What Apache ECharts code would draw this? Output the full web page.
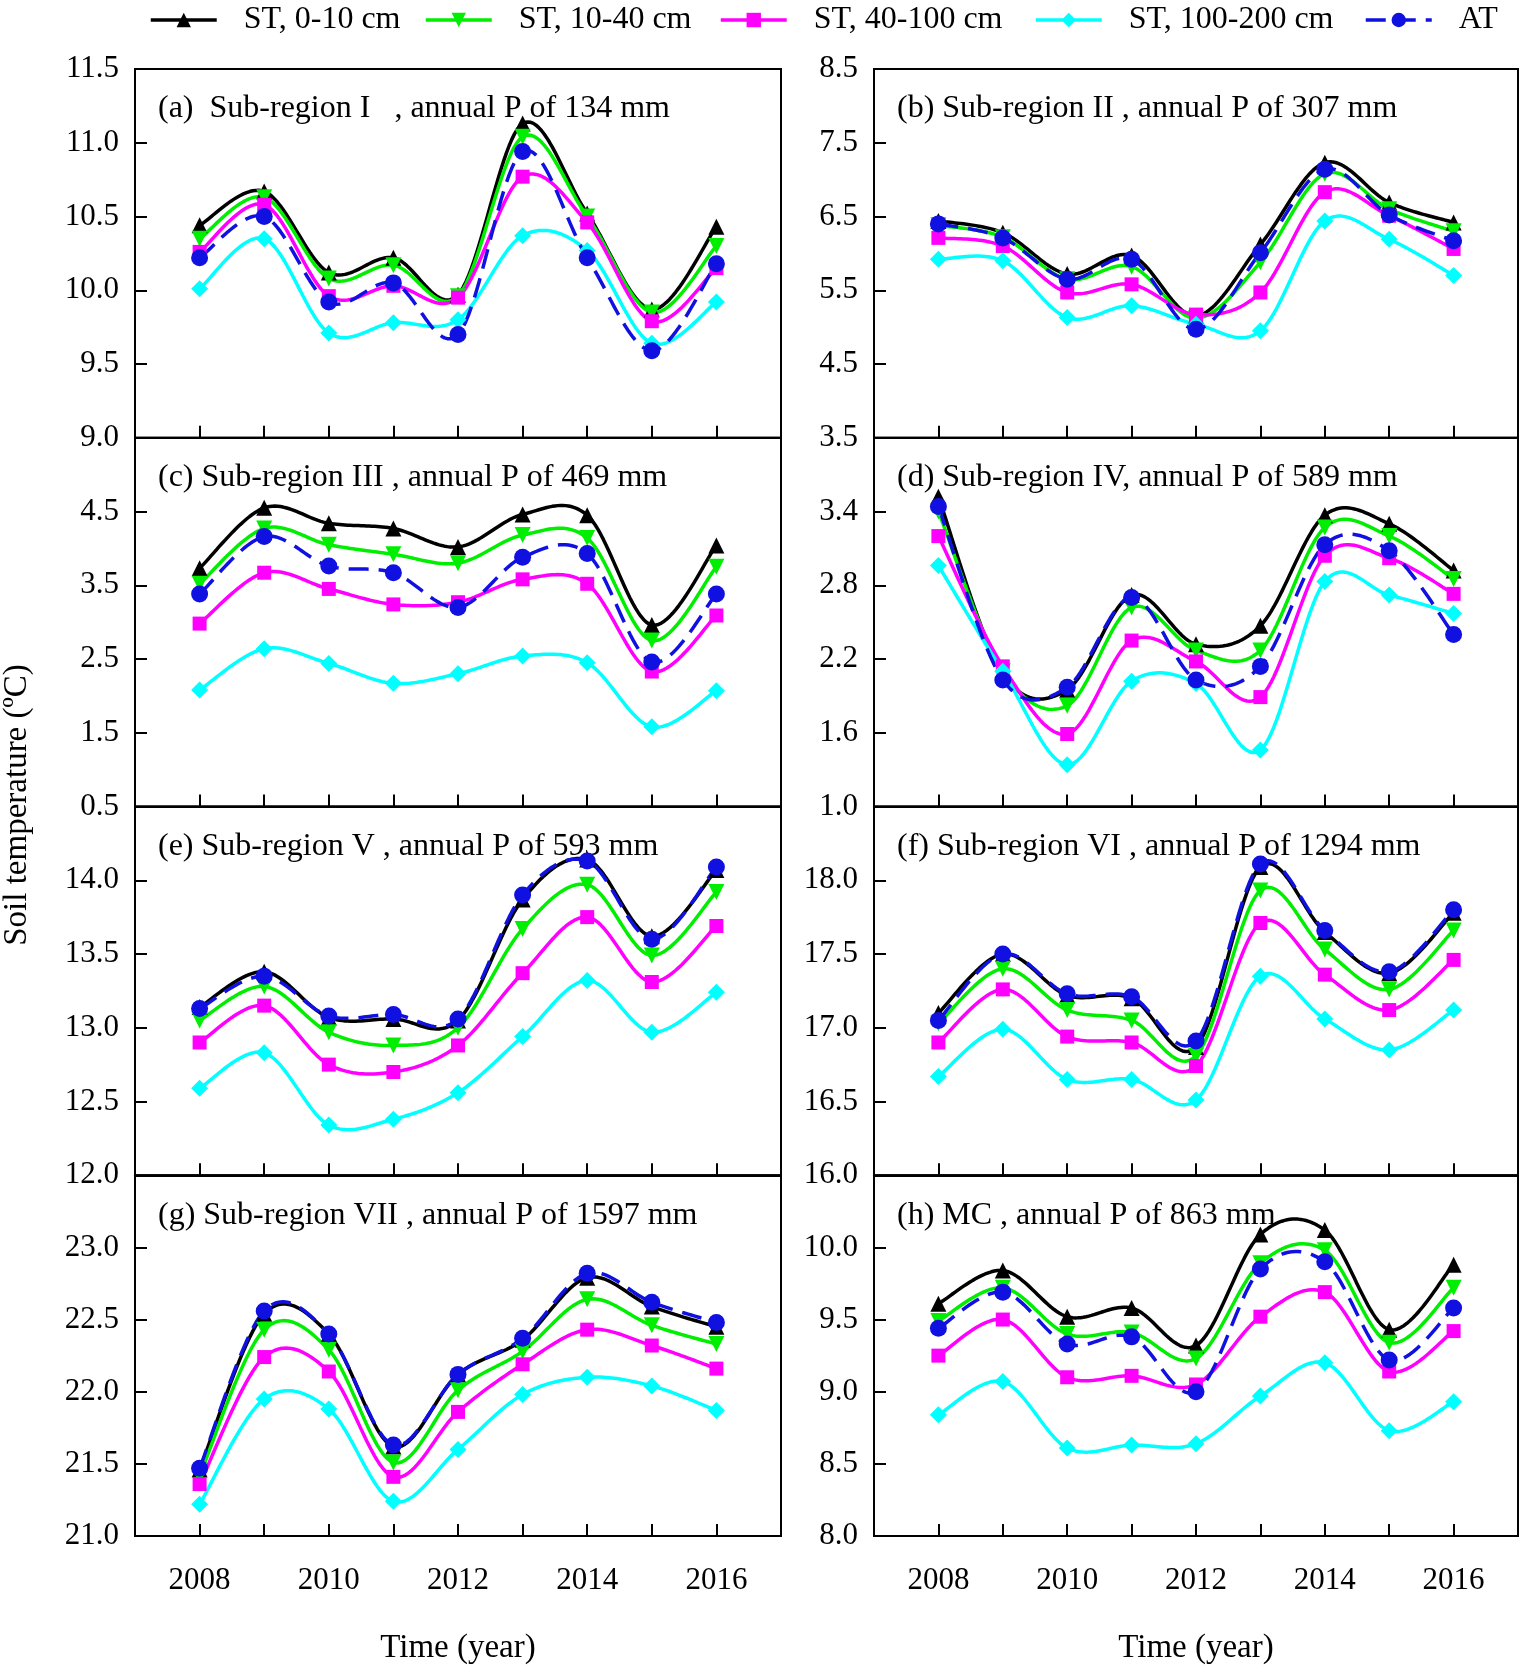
<!DOCTYPE html>
<html>
<head>
<meta charset="utf-8">
<script src="https://cdn.jsdelivr.net/npm/echarts@6/dist/echarts.min.js"></script>
<style>
html,body{margin:0;padding:0;background:#fff;}
#chart{width:1524px;height:1666px;}
#err{position:absolute;left:10px;top:10px;font:14px monospace;white-space:pre-wrap;width:1500px;color:#c00;}
</style>
</head>
<body>
<div id="chart"></div>
<div id="err"></div>
<script>
var years = [2008, 2009, 2010, 2011, 2012, 2013, 2014, 2015, 2016];
var xTickYears = [2008, 2009, 2010, 2011, 2012, 2013, 2014, 2015, 2016];
var xLabelYears = [2008, 2010, 2012, 2014, 2016];
var seriesNames = ['ST, 0-10 cm', 'ST, 10-40 cm', 'ST, 40-100 cm', 'ST, 100-200 cm', 'AT'];

var titles = [
  '(a)  Sub-region I   , annual P of 134 mm',
  '(b) Sub-region II , annual P of 307 mm',
  '(c) Sub-region III , annual P of 469 mm',
  '(d) Sub-region IV, annual P of 589 mm',
  '(e) Sub-region V , annual P of 593 mm',
  '(f) Sub-region VI , annual P of 1294 mm',
  '(g) Sub-region VII , annual P of 1597 mm',
  '(h) MC , annual P of 863 mm'
];

var yTicksA = [9.0, 9.5, 10.0, 10.5, 11.0, 11.5];
var yTicksB = [3.5, 4.5, 5.5, 6.5, 7.5, 8.5];
var yTicksC = [0.5, 1.5, 2.5, 3.5, 4.5, 5.5];
var yTicksD = [1.0, 1.6, 2.2, 2.8, 3.4, 4.0];
var yTicksE = [12.0, 12.5, 13.0, 13.5, 14.0, 14.5];
var yTicksF = [16.0, 16.5, 17.0, 17.5, 18.0, 18.5];
var yTicksG = [21.0, 21.5, 22.0, 22.5, 23.0, 23.5];
var yTicksH = [8.0, 8.5, 9.0, 9.5, 10.0, 10.5];

var a_st0   = [10.44, 10.67, 10.12, 10.22, 9.97, 11.13, 10.52, 9.87, 10.43];
var a_st10  = [10.35, 10.63, 10.08, 10.17, 9.96, 11.04, 10.50, 9.85, 10.30];
var a_st40  = [10.26, 10.58, 9.96, 10.03, 9.95, 10.77, 10.46, 9.79, 10.15];
var a_st100 = [10.01, 10.35, 9.71, 9.78, 9.80, 10.37, 10.27, 9.64, 9.92];
var a_at    = [10.22, 10.50, 9.92, 10.05, 9.70, 10.94, 10.22, 9.59, 10.18];
var b_st0   = [6.44, 6.28, 5.72, 5.97, 5.15, 6.12, 7.23, 6.69, 6.42];
var b_st10  = [6.38, 6.22, 5.65, 5.82, 5.12, 5.88, 7.08, 6.60, 6.30];
var b_st40  = [6.21, 6.10, 5.47, 5.58, 5.17, 5.47, 6.83, 6.51, 6.06];
var b_st100 = [5.92, 5.90, 5.13, 5.29, 5.04, 4.95, 6.44, 6.19, 5.70];
var b_at    = [6.40, 6.21, 5.65, 5.92, 4.97, 6.01, 7.14, 6.52, 6.17];
var c_st0   = [3.73, 4.55, 4.34, 4.27, 4.02, 4.46, 4.45, 2.96, 4.04];
var c_st10  = [3.52, 4.27, 4.05, 3.92, 3.80, 4.18, 4.14, 2.75, 3.75];
var c_st40  = [2.98, 3.67, 3.45, 3.24, 3.27, 3.58, 3.52, 2.33, 3.09];
var c_st100 = [2.08, 2.64, 2.44, 2.17, 2.30, 2.54, 2.45, 1.58, 2.07];
var c_at    = [3.38, 4.16, 3.76, 3.67, 3.20, 3.88, 3.93, 2.46, 3.38];
var d_st0   = [3.52, 2.08, 1.95, 2.72, 2.32, 2.47, 3.37, 3.30, 2.92];
var d_st10  = [3.40, 2.10, 1.82, 2.62, 2.27, 2.27, 3.27, 3.20, 2.85];
var d_st40  = [3.20, 2.14, 1.59, 2.35, 2.18, 1.89, 3.04, 3.02, 2.73];
var d_st100 = [2.96, 2.10, 1.34, 2.02, 2.00, 1.46, 2.83, 2.72, 2.57];
var d_at    = [3.44, 2.03, 1.97, 2.70, 2.03, 2.14, 3.13, 3.08, 2.40];
var e_st0   = [13.14, 13.38, 13.07, 13.06, 13.05, 13.87, 14.14, 13.62, 14.07];
var e_st10  = [13.05, 13.28, 12.97, 12.88, 13.00, 13.67, 13.97, 13.49, 13.92];
var e_st40  = [12.90, 13.15, 12.75, 12.70, 12.88, 13.37, 13.75, 13.31, 13.69];
var e_st100 = [12.59, 12.83, 12.34, 12.38, 12.56, 12.94, 13.32, 12.97, 13.24];
var e_at    = [13.13, 13.35, 13.08, 13.09, 13.06, 13.90, 14.13, 13.60, 14.09];
var f_st0   = [17.10, 17.50, 17.22, 17.20, 16.87, 18.09, 17.65, 17.37, 17.78];
var f_st10  = [17.03, 17.40, 17.12, 17.05, 16.81, 17.93, 17.53, 17.26, 17.66];
var f_st40  = [16.90, 17.26, 16.94, 16.90, 16.74, 17.71, 17.36, 17.12, 17.46];
var f_st100 = [16.67, 16.99, 16.65, 16.65, 16.51, 17.35, 17.06, 16.85, 17.12];
var f_at    = [17.05, 17.50, 17.23, 17.21, 16.91, 18.11, 17.66, 17.38, 17.80];
var g_st0   = [21.46, 22.54, 22.40, 21.62, 22.12, 22.36, 22.79, 22.59, 22.45];
var g_st10  = [21.42, 22.43, 22.29, 21.51, 22.01, 22.28, 22.64, 22.46, 22.33];
var g_st40  = [21.36, 22.24, 22.14, 21.41, 21.86, 22.19, 22.43, 22.32, 22.16];
var g_st100 = [21.22, 21.95, 21.88, 21.24, 21.60, 21.98, 22.10, 22.04, 21.87];
var g_at    = [21.47, 22.56, 22.40, 21.63, 22.12, 22.37, 22.82, 22.62, 22.48];
var h_st0   = [9.61, 9.84, 9.52, 9.58, 9.32, 10.09, 10.12, 9.43, 9.88];
var h_st10  = [9.49, 9.72, 9.40, 9.41, 9.23, 9.89, 9.98, 9.34, 9.72];
var h_st40  = [9.25, 9.50, 9.10, 9.11, 9.05, 9.52, 9.69, 9.14, 9.42];
var h_st100 = [8.84, 9.07, 8.61, 8.63, 8.64, 8.97, 9.20, 8.73, 8.93];
var h_at    = [9.44, 9.69, 9.33, 9.38, 9.00, 9.85, 9.90, 9.22, 9.58];

var panelData = [
  [a_st0, a_st10, a_st40, a_st100, a_at],
  [b_st0, b_st10, b_st40, b_st100, b_at],
  [c_st0, c_st10, c_st40, c_st100, c_at],
  [d_st0, d_st10, d_st40, d_st100, d_at],
  [e_st0, e_st10, e_st40, e_st100, e_at],
  [f_st0, f_st10, f_st40, f_st100, f_at],
  [g_st0, g_st10, g_st40, g_st100, g_at],
  [h_st0, h_st10, h_st40, h_st100, h_at]
];
var panelTicks = [yTicksA, yTicksB, yTicksC, yTicksD, yTicksE, yTicksF, yTicksG, yTicksH];

(function () {
  var FONT = '"Liberation Serif", "Times New Roman", serif';
  var colors = ['#000000', '#00ee00', '#ff00ff', '#00ffff', '#1010e0'];
  var symbols = ['triangle', 'triangle', 'rect', 'diamond', 'circle'];
  var symRot = [0, 180, 0, 0, 0];
  var symSize = [16, 16, 14, 17, 17];
  var LW = 3.5;
  var DASH = [20, 10];

  var colLeft = [135, 874];
  var colWidth = [646, 644];
  var rowTop = 69, rowH = 368.75;

  function fmtYear(v) { return String(v); }
  function fmtY(v) { return Number(v).toFixed(1); }

  // spline (Catmull-Rom) drawn in pixel space through points mapped by the axes
  function makeRender(vals, color, dashed) {
    return function (params, api) {
      if (params.dataIndex !== 0) return null;
      var P = [];
      for (var j = 0; j < years.length; j++) P.push(api.coord([years[j], vals[j]]));
      var n = P.length, out = [P[0].slice()];
      var STEPS = 24;
      for (var k = 0; k < n - 1; k++) {
        var p0 = P[Math.max(k - 1, 0)], p1 = P[k], p2 = P[k + 1], p3 = P[Math.min(k + 2, n - 1)];
        var c1 = [p1[0] + (p2[0] - p0[0]) / 6, p1[1] + (p2[1] - p0[1]) / 6];
        var c2 = [p2[0] - (p3[0] - p1[0]) / 6, p2[1] - (p3[1] - p1[1]) / 6];
        for (var t = 1; t <= STEPS; t++) {
          var u = t / STEPS, mu = 1 - u;
          var b0 = mu * mu * mu, b1 = 3 * mu * mu * u, b2 = 3 * mu * u * u, b3 = u * u * u;
          out.push([
            b0 * p1[0] + b1 * c1[0] + b2 * c2[0] + b3 * p2[0],
            b0 * p1[1] + b1 * c1[1] + b2 * c2[1] + b3 * p2[1]
          ]);
        }
      }
      var style = { stroke: color, lineWidth: LW, fill: 'none', lineJoin: 'round' };
      if (dashed) style.lineDash = DASH;
      return { type: 'polyline', shape: { points: out }, style: style, silent: true };
    };
  }

  var grids = [], xAxes = [], yAxes = [], series = [], titleArr = [];
  for (var i = 0; i < 8; i++) {
    var col = i % 2, row = Math.floor(i / 2);
    var gTop = rowTop + row * rowH;
    grids.push({
      left: colLeft[col], top: gTop, width: colWidth[col], height: rowH,
      show: true, borderColor: '#000', borderWidth: 2
    });
    var bottomRow = row === 3;
    var xa = {
      type: 'value', gridIndex: i, min: 2007, max: 2017,
      splitLine: { show: false },
      axisLine: { show: true, lineStyle: { color: '#000', width: 2 } },
      axisTick: { show: true, inside: true, length: 12, customValues: xTickYears.slice(), lineStyle: { color: '#000', width: 2 } },
      axisLabel: {
        show: bottomRow, customValues: xLabelYears.slice(), margin: 29,
        fontFamily: FONT, fontSize: 31, color: '#000',
        formatter: fmtYear
      }
    };
    if (bottomRow) {
      xa.name = 'Time (year)';
      xa.nameLocation = 'middle';
      xa.nameGap = 96;
      xa.nameTextStyle = { fontFamily: FONT, fontSize: 33, color: '#000' };
    }
    xAxes.push(xa);
    var ticks = panelTicks[i];
    var labelVals = row === 0 ? ticks.slice() : ticks.slice(0, ticks.length - 1);
    yAxes.push({
      type: 'value', gridIndex: i, min: ticks[0], max: ticks[ticks.length - 1],
      splitLine: { show: false },
      axisLine: { show: true, lineStyle: { color: '#000', width: 2 } },
      axisTick: { show: true, inside: true, length: 12, customValues: ticks.slice(), lineStyle: { color: '#000', width: 2 } },
      axisLabel: {
        customValues: labelVals, margin: 16,
        fontFamily: FONT, fontSize: 31, color: '#000',
        formatter: fmtY
      }
    });
    titleArr.push({
      text: titles[i], left: colLeft[col] + 18, top: gTop + 19,
      textStyle: { fontFamily: FONT, fontSize: 32, fontWeight: 'normal', color: '#000' }
    });
    for (var s = 0; s < 5; s++) {
      var vals = panelData[i][s];
      var pts = [];
      for (var j = 0; j < years.length; j++) pts.push([years[j], vals[j]]);
      // markers (named: drives the legend)
      series.push({
        name: seriesNames[s], type: 'line', xAxisIndex: i, yAxisIndex: i,
        data: pts,
        symbol: symbols[s], symbolRotate: symRot[s], symbolSize: symSize[s],
        itemStyle: { color: colors[s] },
        lineStyle: { color: colors[s], width: 0, opacity: 0 },
        z: 10 + s
      });
      // spline line through the same points
      series.push({
        type: 'custom', xAxisIndex: i, yAxisIndex: i,
        data: pts,
        encode: { x: 0, y: 1 },
        renderItem: makeRender(vals, colors[s], s === 4),
        clip: true,
        z: 2 + s
      });
    }
  }

  var legendLefts = [144, 419, 714, 1029, 1359];
  var legends = [];
  for (var k = 0; k < 5; k++) {
    legends.push({
      data: [seriesNames[k]], left: legendLefts[k], top: -1,
      itemWidth: 66, itemHeight: 18, itemGap: 10,
      lineStyle: { color: colors[k], width: LW, type: k === 4 ? DASH : 'solid', opacity: 1 },
      textStyle: { fontFamily: FONT, fontSize: 32, color: '#000', padding: [0, 0, 0, 22] }
    });
  }

  try {
    var chart = echarts.init(document.getElementById('chart'));
    chart.setOption({
      backgroundColor: '#fff',
      animation: false,
      title: titleArr,
      legend: legends,
      grid: grids,
      xAxis: xAxes,
      yAxis: yAxes,
      series: series,
      graphic: [{
        type: 'text', x: 17, y: 805, rotation: Math.PI / 2,
        style: {
          text: 'Soil temperature (ºC)', fontFamily: FONT, fontSize: 33, fill: '#000',
          textAlign: 'center', textVerticalAlign: 'middle'
        }
      }]
    });
  } catch (e) {
    document.getElementById('err').textContent = String(e) + '\n' + (e.stack || '');
  }
})();
</script>
</body>
</html>
